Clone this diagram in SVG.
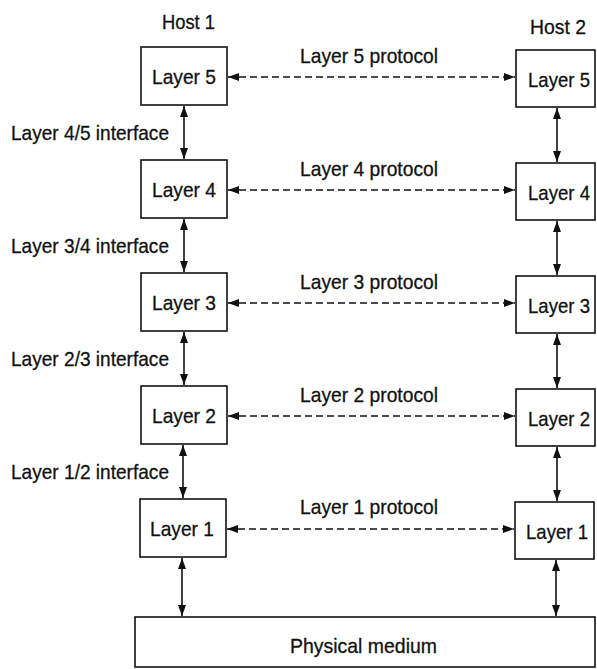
<svg xmlns="http://www.w3.org/2000/svg" width="597" height="669" viewBox="0 0 597 669">
<style>
text{font-family:"Liberation Sans",Arial,sans-serif;font-size:21px;fill:#111;stroke:#111;stroke-width:0.3}
.box{fill:#fff;stroke:#111;stroke-width:1.6}
.v{stroke:#111;stroke-width:1.6;fill:none;marker-start:url(#ah);marker-end:url(#ah)}
.d{stroke:#111;stroke-width:1.7;fill:none;stroke-dasharray:7 4;marker-start:url(#ah);marker-end:url(#ah)}
</style>
<defs>
<marker id="ah" viewBox="0 0 11 8" refX="11" refY="4" markerWidth="11" markerHeight="8" markerUnits="userSpaceOnUse" orient="auto-start-reverse">
<path d="M0,0 L11,4 L0,8 z" fill="#111"/>
</marker>
</defs>
<rect width="597" height="669" fill="#fff"/>
<g id="labels">
<text x="162" y="29" textLength="53" lengthAdjust="spacingAndGlyphs">Host 1</text>
<text x="530" y="34" textLength="56" lengthAdjust="spacingAndGlyphs">Host 2</text>
<text x="11" y="140" textLength="158" lengthAdjust="spacingAndGlyphs">Layer 4/5 interface</text>
<text x="11" y="253" textLength="158" lengthAdjust="spacingAndGlyphs">Layer 3/4 interface</text>
<text x="11" y="366" textLength="158" lengthAdjust="spacingAndGlyphs">Layer 2/3 interface</text>
<text x="11" y="479" textLength="158" lengthAdjust="spacingAndGlyphs">Layer 1/2 interface</text>
<text x="300" y="63" textLength="138" lengthAdjust="spacingAndGlyphs">Layer 5 protocol</text>
<text x="300" y="176" textLength="138" lengthAdjust="spacingAndGlyphs">Layer 4 protocol</text>
<text x="300" y="289" textLength="138" lengthAdjust="spacingAndGlyphs">Layer 3 protocol</text>
<text x="300" y="402" textLength="138" lengthAdjust="spacingAndGlyphs">Layer 2 protocol</text>
<text x="300" y="514" textLength="138" lengthAdjust="spacingAndGlyphs">Layer 1 protocol</text>
</g>
<g id="h1l5"><rect class="box" x="141" y="47" width="86" height="58"/><text x="152" y="84" textLength="64" lengthAdjust="spacingAndGlyphs">Layer 5</text></g>
<g id="h1l4"><rect class="box" x="141" y="160" width="86" height="58"/><text x="152" y="197" textLength="64" lengthAdjust="spacingAndGlyphs">Layer 4</text></g>
<g id="h1l3"><rect class="box" x="141" y="273" width="86" height="58"/><text x="152" y="310" textLength="64" lengthAdjust="spacingAndGlyphs">Layer 3</text></g>
<g id="h1l2"><rect class="box" x="141" y="386" width="86" height="58"/><text x="152" y="423" textLength="64" lengthAdjust="spacingAndGlyphs">Layer 2</text></g>
<g id="h1l1"><rect class="box" x="140" y="499" width="86" height="58"/><text x="150" y="536" textLength="64" lengthAdjust="spacingAndGlyphs">Layer 1</text></g>
<g id="h2l5"><rect class="box" x="516" y="50" width="79" height="57"/><text x="528" y="87" textLength="62" lengthAdjust="spacingAndGlyphs">Layer 5</text></g>
<g id="h2l4"><rect class="box" x="516" y="163" width="79" height="57"/><text x="528" y="200" textLength="62" lengthAdjust="spacingAndGlyphs">Layer 4</text></g>
<g id="h2l3"><rect class="box" x="516" y="276" width="79" height="57"/><text x="528" y="313" textLength="62" lengthAdjust="spacingAndGlyphs">Layer 3</text></g>
<g id="h2l2"><rect class="box" x="516" y="389" width="79" height="57"/><text x="528" y="426" textLength="62" lengthAdjust="spacingAndGlyphs">Layer 2</text></g>
<g id="h2l1"><rect class="box" x="515" y="502" width="79" height="57"/><text x="526" y="539" textLength="62" lengthAdjust="spacingAndGlyphs">Layer 1</text></g>
<g id="medium"><rect class="box" x="135" y="617" width="460" height="50"/><text x="290" y="653" textLength="147" lengthAdjust="spacingAndGlyphs">Physical medium</text></g>
<g id="connectors">
<line class="v" x1="184" y1="106" x2="184" y2="159"/>
<line class="v" x1="184" y1="219" x2="184" y2="272"/>
<line class="v" x1="184" y1="332" x2="184" y2="385"/>
<line class="v" x1="183" y1="445" x2="183" y2="498"/>
<line class="v" x1="182" y1="558" x2="182" y2="616"/>
<line class="v" x1="557" y1="108" x2="557" y2="162"/>
<line class="v" x1="557" y1="221" x2="557" y2="275"/>
<line class="v" x1="557" y1="334" x2="557" y2="388"/>
<line class="v" x1="557" y1="447" x2="557" y2="501"/>
<line class="v" x1="556" y1="560" x2="556" y2="616"/>
<line class="d" x1="228" y1="77" x2="515" y2="77"/>
<line class="d" x1="228" y1="190" x2="515" y2="190"/>
<line class="d" x1="228" y1="303" x2="515" y2="303"/>
<line class="d" x1="228" y1="416" x2="515" y2="416"/>
<line class="d" x1="227" y1="529" x2="514" y2="529"/>
</g>
</svg>
